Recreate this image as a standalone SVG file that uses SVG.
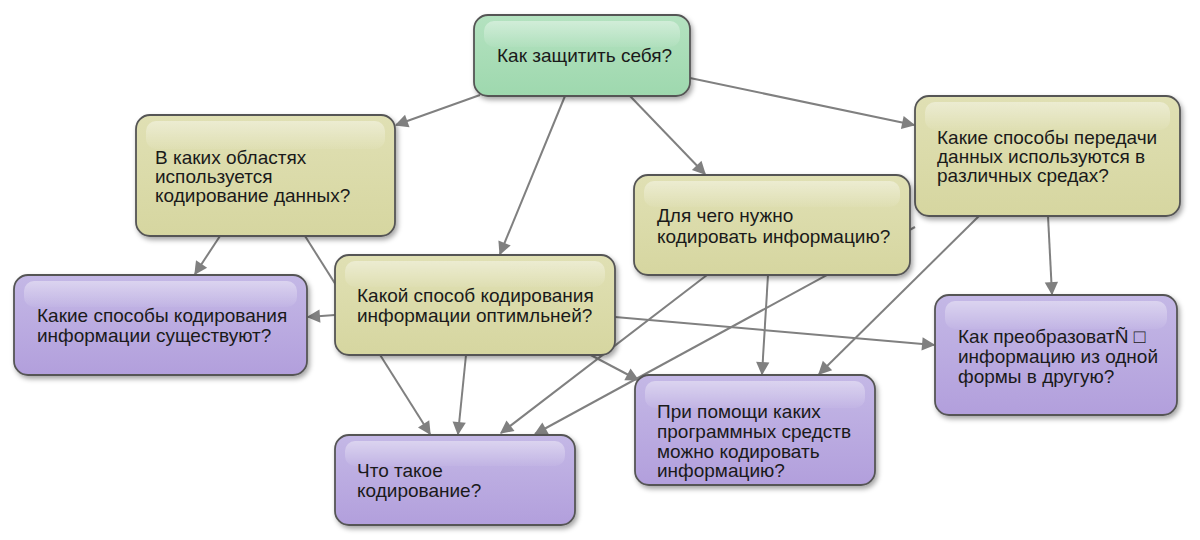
<svg xmlns="http://www.w3.org/2000/svg" width="1200" height="540" viewBox="0 0 1200 540">
<defs>
<linearGradient id="gG" x1="0" y1="0" x2="0" y2="1"><stop offset="0" stop-color="#b4e2c0"/><stop offset="1" stop-color="#9ed8ae"/></linearGradient>
<linearGradient id="gY" x1="0" y1="0" x2="0" y2="1"><stop offset="0" stop-color="#e0e0b4"/><stop offset="1" stop-color="#d6d6a0"/></linearGradient>
<linearGradient id="gP" x1="0" y1="0" x2="0" y2="1"><stop offset="0" stop-color="#c4b8e6"/><stop offset="1" stop-color="#b29fdc"/></linearGradient>
<linearGradient id="gloss" x1="0" y1="0" x2="0" y2="1"><stop offset="0" stop-color="#ffffff" stop-opacity="0.4"/><stop offset="1" stop-color="#ffffff" stop-opacity="0.05"/></linearGradient>
<filter id="sh" x="-10%" y="-10%" width="125%" height="130%"><feDropShadow dx="2" dy="3" stdDeviation="2.5" flood-color="#000" flood-opacity="0.35"/></filter>
<marker id="ar" viewBox="0 0 10 10" refX="9" refY="5" markerWidth="9" markerHeight="7" markerUnits="userSpaceOnUse" orient="auto" overflow="visible"><path d="M0,0 L10,5 L0,10 z" fill="#808080" transform="scale(1.9)" transform-origin="9 5"/></marker>
</defs>
<style>
.c{stroke:#808080;stroke-width:2;fill:none;marker-end:url(#ar)}
.b{stroke:#555;stroke-width:1.8;filter:url(#sh)}
.gl{fill:url(#gloss)}
text{font-family:"Liberation Sans",Arial,sans-serif;font-size:19px;fill:#1a1a1a}
</style>
<rect width="1200" height="540" fill="#ffffff"/>
<g id="connectors">
<line class="c" x1="480" y1="95" x2="396" y2="125"/>
<line class="c" x1="565" y1="96" x2="500" y2="254"/>
<line class="c" x1="630" y1="96" x2="705" y2="174"/>
<line class="c" x1="690" y1="78" x2="914" y2="125"/>
<line class="c" x1="220" y1="236" x2="195" y2="274"/>
<line class="c" x1="305" y1="236" x2="430" y2="434"/>
<line class="c" x1="335" y1="315" x2="308" y2="317"/>
<line class="c" x1="466" y1="355" x2="458" y2="434"/>
<line class="c" x1="615" y1="317" x2="934" y2="345"/>
<line class="c" x1="585" y1="352" x2="638" y2="380"/>
<line class="c" x1="707" y1="275" x2="501" y2="433"/>
<line class="c" x1="915" y1="227" x2="535" y2="434"/>
<line class="c" x1="979" y1="216" x2="819" y2="374"/>
<line class="c" x1="1048" y1="216" x2="1052" y2="294"/>
<line class="c" x1="768" y1="275" x2="762" y2="374"/>
</g>
<g id="n1">
<rect class="b" x="474" y="15" width="216" height="81" rx="14" fill="url(#gG)"/>
<rect class="gl" x="484" y="21" width="196" height="26" rx="10"/>
<text x="497" y="62">Как защитить себя?</text>
</g>
<g id="n2">
<rect class="b" x="136" y="115" width="259" height="121" rx="14" fill="url(#gY)"/>
<rect class="gl" x="146" y="121" width="239" height="28" rx="10"/>
<text x="155" y="164">В каких областях</text>
<text x="155" y="183">используется</text>
<text x="155" y="202">кодирование данных?</text>
</g>
<g id="n3">
<rect class="b" x="915" y="96" width="265" height="120" rx="14" fill="url(#gY)"/>
<rect class="gl" x="925" y="102" width="245" height="28" rx="10"/>
<text x="937" y="144">Какие способы передачи</text>
<text x="937" y="163">данных используются в</text>
<text x="937" y="182">различных средах?</text>
</g>
<g id="n4">
<rect class="b" x="634" y="175" width="276" height="100" rx="14" fill="url(#gY)"/>
<rect class="gl" x="644" y="181" width="256" height="26" rx="10"/>
<text x="657" y="222">Для чего нужно</text>
<text x="657" y="243">кодировать информацию?</text>
</g>
<g id="n5">
<rect class="b" x="335" y="255" width="280" height="100" rx="14" fill="url(#gY)"/>
<rect class="gl" x="345" y="261" width="260" height="26" rx="10"/>
<text x="357" y="302">Какой способ кодирования</text>
<text x="357" y="322">информации оптимльней?</text>
</g>
<g id="n6">
<rect class="b" x="14" y="275" width="293" height="100" rx="14" fill="url(#gP)"/>
<rect class="gl" x="24" y="281" width="273" height="26" rx="10"/>
<text x="37" y="322">Какие способы кодирования</text>
<text x="37" y="342">информации существуют?</text>
</g>
<g id="n7">
<rect class="b" x="935" y="295" width="242" height="120" rx="14" fill="url(#gP)"/>
<rect class="gl" x="945" y="301" width="222" height="28" rx="10"/>
<text x="958" y="343">Как преобразоватÑ □</text>
<text x="958" y="363">информацию из одной</text>
<text x="958" y="383">формы в другую?</text>
</g>
<g id="n8">
<rect class="b" x="635" y="375" width="240" height="110" rx="14" fill="url(#gP)"/>
<rect class="gl" x="645" y="381" width="220" height="27" rx="10"/>
<text x="657" y="418">При помощи каких</text>
<text x="657" y="438">программных средств</text>
<text x="657" y="458">можно кодировать</text>
<text x="657" y="477">информацию?</text>
</g>
<g id="n9">
<rect class="b" x="335" y="435" width="240" height="90" rx="14" fill="url(#gP)"/>
<rect class="gl" x="345" y="441" width="220" height="25" rx="10"/>
<text x="357" y="477">Что такое</text>
<text x="357" y="497">кодирование?</text>
</g>
</svg>
